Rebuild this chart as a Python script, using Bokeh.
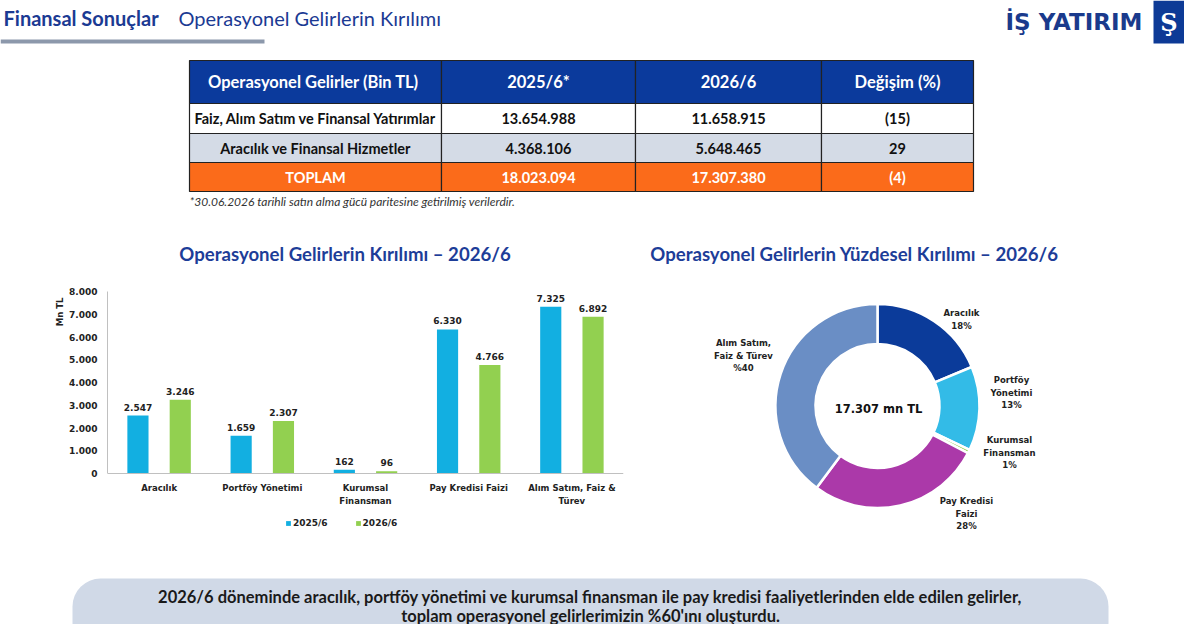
import math
from bokeh.plotting import figure
from bokeh.layouts import column, row
from bokeh.models import (Range1d, FactorRange, FixedTicker, Legend, LegendItem,
                          Title, ColumnDataSource, Span)
from bokeh.transform import dodge
from bokeh.core.properties import value
from bokeh.embed import file_html
from bokeh.resources import INLINE

# ---------------- data ----------------
categories = ["Aracılık", "Portföy Yönetimi", "Kurumsal\nFinansman",
              "Pay Kredisi Faizi", "Alım Satım, Faiz &\nTürev"]
series_names = ["2025/6", "2026/6"]
values_2025 = [2547, 1659, 162, 6330, 7325]
values_2026 = [3246, 2307, 96, 4766, 6892]
y_ticks = [0, 1000, 2000, 3000, 4000, 5000, 6000, 7000, 8000]
y_tick_labels = ["0", "1.000", "2.000", "3.000", "4.000", "5.000", "6.000", "7.000", "8.000"]
y_unit = "Mn TL"

donut_names = ["Aracılık", "Portföy\nYönetimi", "Kurumsal\nFinansman",
               "Pay Kredisi\nFaizi", "Alım Satım,\nFaiz & Türev"]
donut_values = values_2026
donut_pct_labels = ["18%", "13%", "1%", "28%", "%40"]

table_header = ["Operasyonel Gelirler  (Bin TL)", "2025/6*", "2026/6", "Değişim (%)"]
table_rows = ["Faiz, Alım Satım ve Finansal Yatırımlar", "Aracılık ve Finansal Hizmetler", "TOPLAM"]
table_2025 = [13654988, 4368106, 18023094]
table_2026 = [11658915, 5648465, 17307380]
table_change = ["(15)", "29", "(4)"]

header_title = "Finansal Sonuçlar"
header_sub = "Operasyonel Gelirlerin Kırılımı"
footnote = "*30.06.2026 tarihli satın alma gücü paritesine getirilmiş verilerdir."
chart1_title = "Operasyonel Gelirlerin Kırılımı – 2026/6"
chart2_title = "Operasyonel Gelirlerin Yüzdesel Kırılımı – 2026/6"
banner_lines = ["2026/6 döneminde aracılık, portföy yönetimi ve kurumsal finansman ile pay kredisi faaliyetlerinden elde edilen gelirler,",
                "toplam operasyonel gelirlerimizin %60'ını oluşturdu."]


def fmt(v):
    return f"{v:,}".replace(",", ".")


CAL = "Lato"
VER = "DejaVu Sans"
NAVY = "#1b3a93"
BLUE = "#12afe1"
GREEN = "#92d050"


def canvas(w, h, x0, x1, y0, y1):
    p = figure(width=w, height=h, x_range=Range1d(x0, x1), y_range=Range1d(y0, y1),
               output_backend="svg", toolbar_location=None,
               x_axis_location=None, y_axis_location=None, min_border=0)
    p.grid.visible = False
    p.outline_line_color = None
    return p


# ---------------- top: header + table + titles ----------------
pa = canvas(1184, 270, 0, 1184, 270, 0)
pa.text(x=[3], y=[17], text=[header_title], text_font=value(CAL), text_font_style="bold",
        text_font_size="20px", text_color=NAVY, text_baseline="middle")
pa.text(x=[178], y=[17], text=[header_sub], text_font=value(CAL),
        text_font_size="20px", text_color=NAVY, text_baseline="middle")
pa.quad(left=[0], right=[264], top=[39], bottom=[43], fill_color="#8c98ab", line_color=None)

# logo
pa.text(x=[1142], y=[21], text=["İŞ YATIRIM"], text_font=value(VER), text_font_style="bold",
        text_font_size="23px", text_color="#1a3a8c", text_align="right", text_baseline="middle")
pa.quad(left=[1153], right=[1184], top=[0], bottom=[43], fill_color="#0d3a96", line_color=None)
pa.text(x=[1168.5], y=[22], text=["Ş"], text_font=value("DejaVu Serif"), text_font_style="bold",
        text_font_size="24px", text_color="white", text_align="center", text_baseline="middle")

# table
cx = [189, 441, 635, 821, 973]
ry = [60, 103, 133, 162, 191]
row_fill = ["#0b3a9c", "#ffffff", "#d4dbe6", "#fb6b1a"]
row_text = ["white", "#111111", "#111111", "white"]
cells = dict(l=[], r=[], t=[], b=[], f=[])
for ri in range(4):
    for ci in range(4):
        cells["l"].append(cx[ci]); cells["r"].append(cx[ci + 1])
        cells["t"].append(ry[ri]); cells["b"].append(ry[ri + 1])
        cells["f"].append(row_fill[ri])
pa.quad(left="l", right="r", top="t", bottom="b", fill_color="f", line_color="#222222",
        line_width=1.2, source=ColumnDataSource(cells))

tx, ty, tt, tc = [], [], [], []
for ci, h in enumerate(table_header):
    tx.append((cx[ci] + cx[ci + 1]) / 2); ty.append((ry[0] + ry[1]) / 2)
    tt.append(h); tc.append(row_text[0])
for ri in range(3):
    yc = (ry[ri + 1] + ry[ri + 2]) / 2
    vals = [table_rows[ri], fmt(table_2025[ri]), fmt(table_2026[ri]), table_change[ri]]
    for ci, v in enumerate(vals):
        tx.append((cx[ci] + cx[ci + 1]) / 2); ty.append(yc)
        tt.append(v); tc.append(row_text[ri + 1])
src_hdr = ColumnDataSource(dict(x=tx[:4], y=ty[:4], t=tt[:4], c=tc[:4]))
src_body = ColumnDataSource(dict(x=tx[4:], y=ty[4:], t=tt[4:], c=tc[4:]))
pa.text(x="x", y="y", text="t", text_color="c", source=src_hdr, text_font=value(CAL),
        text_font_style="bold", text_font_size="16.5px", text_align="center", text_baseline="middle")
pa.text(x="x", y="y", text="t", text_color="c", source=src_body, text_font=value(CAL),
        text_font_style="bold", text_font_size="14.5px", text_align="center", text_baseline="middle")

pa.text(x=[189], y=[201], text=[footnote], text_font=value(CAL), text_font_style="italic",
        text_font_size="12px", text_color="#333333", text_baseline="middle")

pa.text(x=[344.5, 854], y=[253, 253], text=[chart1_title, chart2_title], text_font=value(CAL),
        text_font_style="bold", text_font_size="18.6px", text_color="#1d3d98",
        text_align="center", text_baseline="middle")

# ---------------- bar chart ----------------
# frame spans the full strip height (y 270..562 on screen); value axis 0..8000 sits at y 473..291
PX_PER_UNIT = 182 / 8000
y_lo = -(562 - 473) / PX_PER_UNIT
y_hi = 8000 + (291 - 270) / PX_PER_UNIT
pb = figure(frame_width=516, frame_height=292, x_range=FactorRange(*categories),
            y_range=Range1d(y_lo, y_hi), output_backend="svg", toolbar_location=None,
            x_axis_location=None,
            min_border_left=107, min_border_right=9, min_border_top=0, min_border_bottom=0)
pb.grid.visible = False
pb.outline_line_color = None
bsrc = ColumnDataSource(dict(cat=categories, v25=values_2025, v26=values_2026,
                             l25=[fmt(v) for v in values_2025], l26=[fmt(v) for v in values_2026],
                             zero=[0] * len(categories)))
r25 = pb.vbar(x=dodge("cat", -0.205, range=pb.x_range), top="v25", bottom=0, width=0.205,
              source=bsrc, fill_color=BLUE, line_color=None)
r26 = pb.vbar(x=dodge("cat", 0.205, range=pb.x_range), top="v26", bottom=0, width=0.205,
              source=bsrc, fill_color=GREEN, line_color=None)
for off, col in ((-0.205, "l25"), (0.205, "l26")):
    pb.text(x=dodge("cat", off, range=pb.x_range), y=col.replace("l", "v"), text=col, source=bsrc,
            text_font=value(VER), text_font_style="bold", text_font_size="9px", text_color="#222222",
            text_align="center", text_baseline="bottom", y_offset=-5)

# category axis: baseline + labels at the factor positions
pb.add_layout(Span(location=0, dimension="width", line_color="#c0c0c0", line_width=1))
pb.text(x="cat", y="zero", text="cat", source=bsrc, y_offset=9,
        text_font=value(VER), text_font_style="bold", text_font_size="8.5px",
        text_color="#222222", text_align="center", text_baseline="top", text_line_height=1.3)

yax = pb.yaxis[0]
yax.ticker = FixedTicker(ticks=y_ticks)
yax.major_label_overrides = {t: l for t, l in zip(y_ticks, y_tick_labels)}
yax.bounds = (0, 8000)
yax.axis_line_color = "#c0c0c0"
yax.major_tick_line_color = None
yax.major_tick_out = 0
yax.major_tick_in = 0
yax.minor_tick_line_color = None
yax.minor_tick_out = 0
yax.major_label_text_font = VER
yax.major_label_text_font_style = "bold"
yax.major_label_text_font_size = "9px"
yax.major_label_text_color = "#222222"
yax.major_label_standoff = 10

pb.add_layout(Title(text=y_unit, align="right", offset=27, standoff=4, text_font=VER,
                    text_font_style="bold", text_font_size="8.5px", text_color="#222222"), "left")

legend = Legend(items=[LegendItem(label=series_names[0], renderers=[r25]),
                       LegendItem(label=series_names[1], renderers=[r26])],
                orientation="horizontal", location=(178, 34), glyph_width=6, glyph_height=6,
                label_text_font=VER, label_text_font_style="bold", label_text_font_size="9px",
                label_text_color="#222222", border_line_color=None, background_fill_alpha=0,
                spacing=27, padding=2, margin=0, label_standoff=2)
pb.add_layout(legend, "center")

# ---------------- donut ----------------
pc = canvas(552, 292, 632, 1184, -562, -270)
total = sum(donut_values)
cum = [0]
for v in donut_values:
    cum.append(cum[-1] + v / total)
starts = [math.pi / 2 - 2 * math.pi * cum[i + 1] for i in range(len(donut_values))]
ends = [math.pi / 2 - 2 * math.pi * cum[i] for i in range(len(donut_values))]
dcolors = ["#0b3b9a", "#33bbe7", "#92d050", "#ab39a9", "#6a8ec5"]
CX, CY = 877, -405.5
dsrc = ColumnDataSource(dict(s=starts, e=ends, c=dcolors))
pc.annular_wedge(x=CX, y=CY, inner_radius=62, outer_radius=102,
                 start_angle="s", end_angle="e", fill_color="c", source=dsrc,
                 line_color="white", line_width=2.5)
label_xy = [(961, 319), (1011, 392), (1009, 452), (966, 513), (743, 355)]
lsrc = ColumnDataSource(dict(x=[p[0] for p in label_xy], y=[-p[1] for p in label_xy],
                             t=[n + "\n" + pl for n, pl in zip(donut_names, donut_pct_labels)]))
pc.text(x="x", y="y", text="t", source=lsrc,
        text_font=value(VER), text_font_style="bold", text_font_size="8.5px",
        text_color="#222222", text_align="center", text_baseline="middle", text_line_height=1.25)
pc.text(x=[CX + 1], y=[CY - 3], text=[fmt(total) + " mn TL"], text_font=value(VER),
        text_font_style="bold", text_font_size="11.5px", text_color="#111111",
        text_align="center", text_baseline="middle")

# ---------------- banner ----------------
pd_ = canvas(1184, 62, 0, 1184, 624, 562)
pd_.quad(left=[72], right=[1108], top=[578], bottom=[650], border_radius=28,
         fill_color="#d0d9e7", line_color=None)
pd_.text(x=[590, 590], y=[596, 615], text=banner_lines, text_font=value(CAL),
         text_font_style="bold", text_font_size="16.5px", text_color="#1a1a1a",
         text_align="center", text_baseline="middle")

layout = column(pa, row(pb, pc), pd_)
open("out.html", "w").write(file_html(layout, INLINE))
